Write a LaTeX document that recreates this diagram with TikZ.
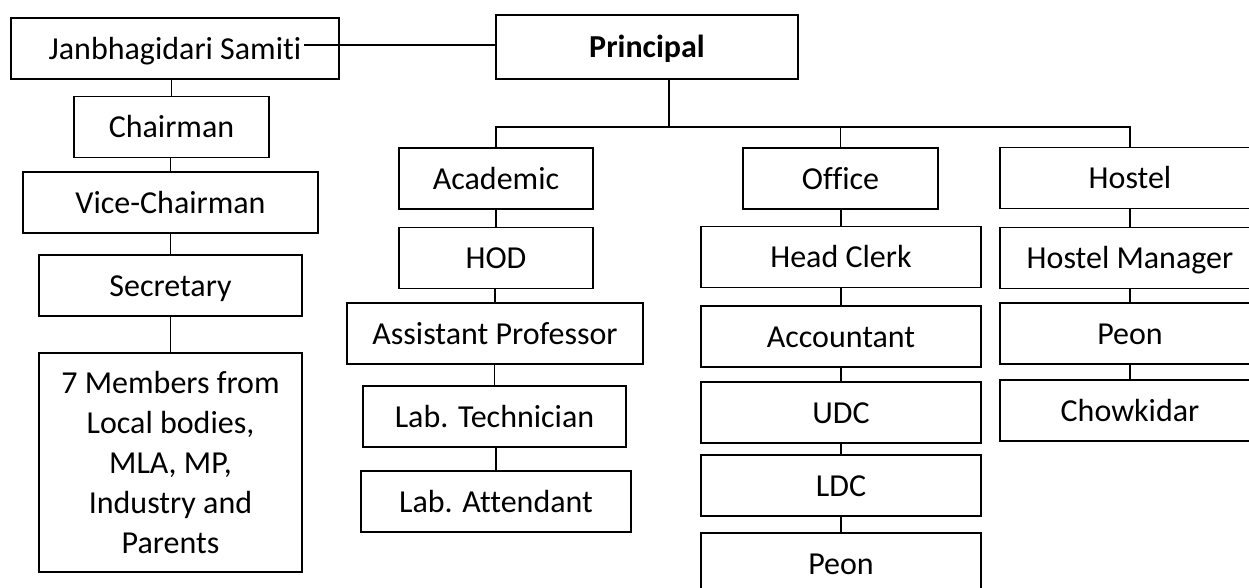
\documentclass[tikz,border=0pt]{standalone}
\usepackage{fontspec}
\setmainfont{Carlito}[Ligatures=NoCommon]
\usetikzlibrary{positioning}

\tikzset{
  box/.style={draw, line width=0.8pt, inner sep=0pt, text height=13pt, text depth=2pt,
    minimum height=30.5pt, minimum width=#1},
  link/.style={line width=0.9pt}
}

\begin{document}
\begin{tikzpicture}[x=0.5pt, y=-0.5pt, font=\fontsize{16}{20}\selectfont]
\useasboundingbox (0,0) rectangle (1249,588);
\clip (0,0) rectangle (1249,588);
% left column: the samiti
\node[box=164pt] (janb) at (175,48.5) {Janbhagidari Samiti};
\node[box=97.5pt] (chair) at (171.5,127) {Chairman};
\node[box=147.5pt] (vice) at (170.5,202.5) {Vice-Chairman};
\node[box=131.5pt] (secr) at (170.5,285.5) {Secretary};
\node[box=131.5pt, minimum height=109.5pt, text height=, text depth=, align=center] (memb) at (170.5,462.5)
  {7 Members from\\Local bodies,\\MLA, MP,\\Industry and\\Parents};
% top
\node[box=151pt, minimum height=32pt] (prin) at (647,47) {\textbf{Principal}};
% academic
\node[box=97pt] (acad) at (496,178.5) {Academic};
\node[box=97pt] (hod) at (496,258) {HOD};
\node[box=148pt] (asst) at (495,333.5) {Assistant Professor};
\node[box=131.5pt] (labt) at (494.5,416.5) {Lab. Technician};
\node[box=135pt] (laba) at (496,501.5) {Lab. Attendant};
% office
\node[box=97.5pt] (offi) at (840.5,178.5) {Office};
\node[box=140pt] (head) at (841,257) {Head Clerk};
\node[box=140pt] (acct) at (841,336.5) {Accountant};
\node[box=140pt] (udc) at (841,412.5) {UDC};
\node[box=140pt] (ldc) at (841,485.5) {LDC};
\node[box=140pt] (opeon) at (841,563.5) {Peon};
% hostel
\node[box=130pt] (host) at (1130,178) {Hostel};
\node[box=130pt] (hman) at (1130,258) {Hostel Manager};
\node[box=130pt] (hpeon) at (1130,333.5) {Peon};
\node[box=130pt] (chow) at (1130,410.5) {Chowkidar};

% connectors
\foreach \a/\b in {janb/chair, chair/vice, vice/secr, secr/memb,
                   acad/hod, hod/asst, asst/labt, labt/laba,
                   offi/head, head/acct, acct/udc, udc/ldc, ldc/opeon,
                   host/hman, hman/hpeon, hpeon/chow}
  \draw[link] (\b.north) -- (\b.north |- \a.south);
\coordinate (jtail) at (304,45);
\draw[link] (jtail) -- (jtail -| prin.west);
\coordinate (bus) at (669,127);
\draw[link] (bus) -- (bus |- prin.south);
\draw[link] (acad.north) |- (bus) -| (host.north);
\draw[link] (offi.north) -- (offi.north |- bus);
\end{tikzpicture}
\end{document}
